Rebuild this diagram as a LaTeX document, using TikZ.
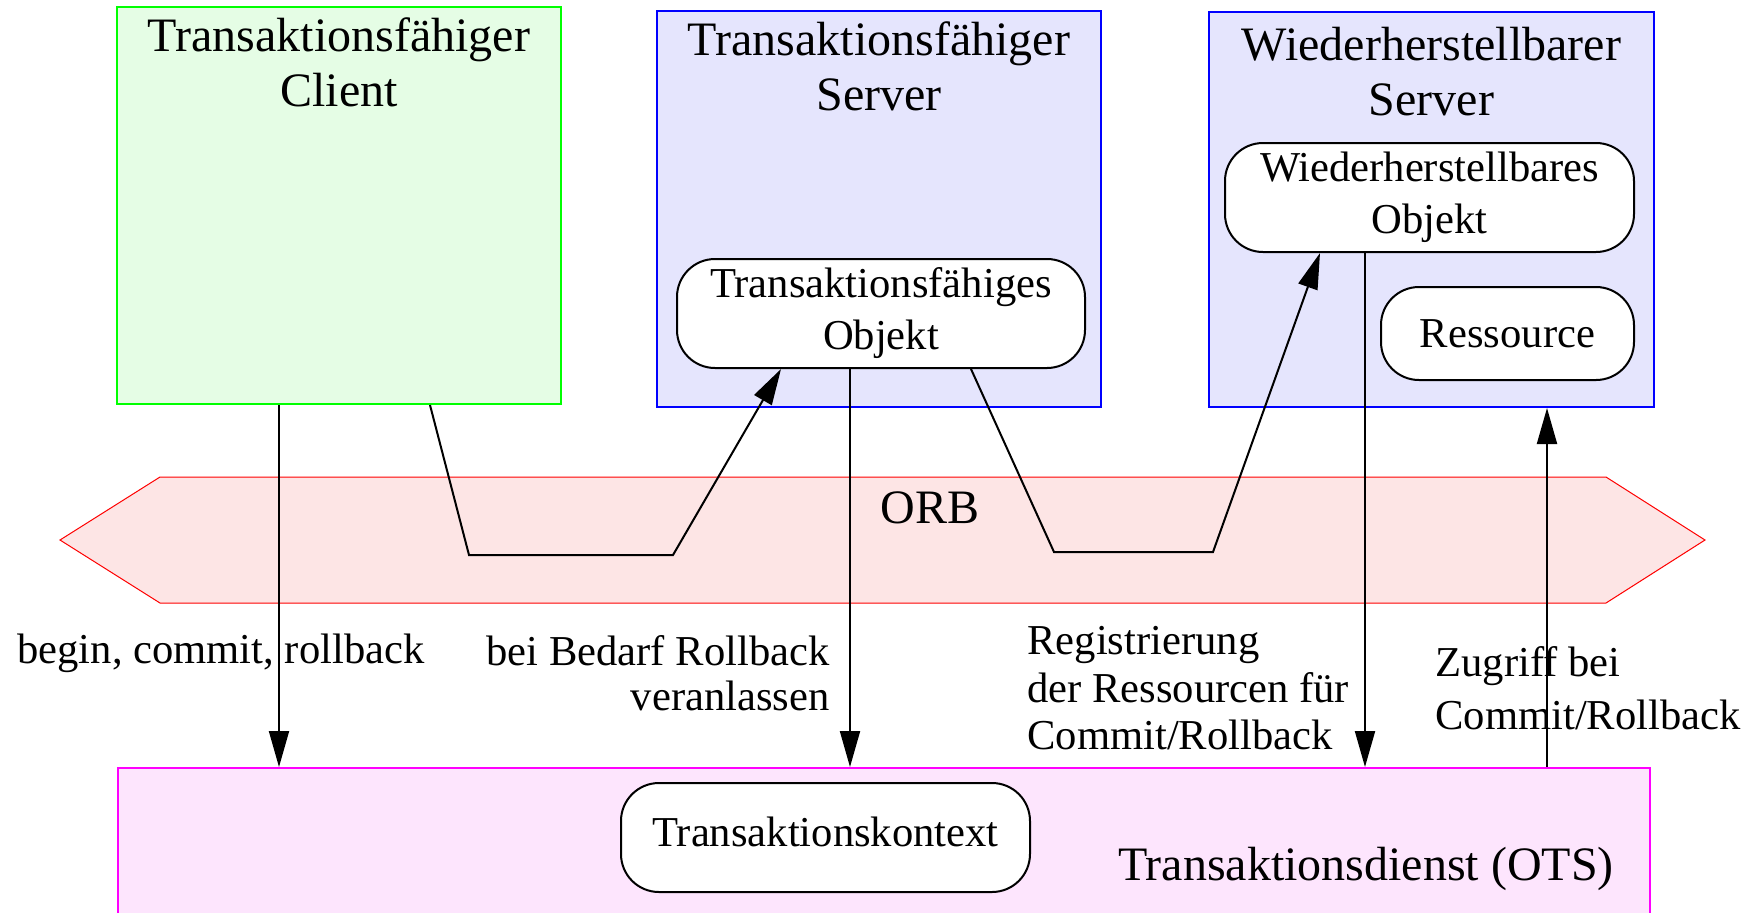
\documentclass[tikz,border=0pt]{standalone}
\usepackage{fontspec}
\setmainfont{Liberation Serif}
\usetikzlibrary{arrows.meta}

\definecolor{clientfill}{RGB}{229,253,229}
\definecolor{clientline}{RGB}{0,255,0}
\definecolor{serverfill}{RGB}{229,229,253}
\definecolor{serverline}{RGB}{0,0,255}
\definecolor{orbfill}{RGB}{253,229,229}
\definecolor{orbline}{RGB}{255,0,0}
\definecolor{otsfill}{RGB}{253,229,253}
\definecolor{otsline}{RGB}{255,0,255}

\begin{document}
\begin{tikzpicture}[x=0.5pt,y=-0.5pt,
  area/.style={draw, line width=1pt, rectangle, inner sep=0pt},
  title/.style={anchor=north, align=center, inner sep=0pt,
                font=\fontsize{24}{27.5}\selectfont},
  obj/.style={draw, line width=1pt, fill=white, rounded corners=19pt,
              align=center, inner sep=0pt, font=\fontsize{21.3}{26}\selectfont},
  lbl/.style={inner sep=0pt},
  link/.style={line width=1pt},
  arr/.style={line width=1pt, -{Triangle[length=18pt,width=10pt]}}]

\clip (0,0) rectangle (1758,912);

% participants
\node[area, draw=clientline, fill=clientfill,
      minimum width=222pt, minimum height=198.5pt] (client) at (339,205.5) {};
\node[title] (clienttitle) at (339,17) {Transaktionsfähiger\\Client};

\node[area, draw=serverline, fill=serverfill,
      minimum width=222pt, minimum height=198pt] (srv1) at (879,209) {};
\node[title] (srv1title) at (879,21.5) {Transaktionsfähiger\\Server};

\node[area, draw=serverline, fill=serverfill,
      minimum width=222.5pt, minimum height=197.5pt] (srv2) at (1431.5,209.5) {};
\node[title] (srv2title) at (1431.5,27) {Wiederherstellbarer\\Server};

% object request broker
\draw[draw=orbline, fill=orbfill, line width=0.5pt]
  (60,540) -- (160,477) -- (1606,477) -- (1705,540) -- (1606,603) -- (160,603) -- cycle;
\node[anchor=base, inner sep=0pt, font=\fontsize{24}{28}\selectfont] (orb) at (930,523) {ORB};

% transaction service
\node[area, draw=otsline, fill=otsfill, anchor=north west,
      minimum width=766pt, minimum height=100pt] (ots) at (117,767) {};
\node[anchor=base, inner sep=0pt, font=\fontsize{24}{28}\selectfont] (otstext) at (1366,880)
  {Transaktionsdienst (OTS)};

% objects
\node[obj, minimum width=204pt, minimum height=54.5pt] (tobj) at (881,313.5)
  {Transaktionsfähiges\\Objekt};
\node[obj, minimum width=204.5pt, minimum height=54.5pt] (wobj) at (1429.5,197.5)
  {Wiederherstellbares\\Objekt};
\node[obj, minimum width=126.5pt, minimum height=46.5pt] (res) at (1507.5,333.5) {Ressource};
\node[obj, minimum width=204.5pt, minimum height=54.5pt,
      text height=14.5pt, text depth=5.5pt] (ctx) at (825.5,837.5)
  {Transaktionskontext};

% labels
\node[lbl, anchor=base west, font=\fontsize{21.3}{23}\selectfont] (lbegin) at (17,663)
  {begin, commit, rollback};
\node[lbl, anchor=north east, align=right, font=\fontsize{21.3}{22.5}\selectfont] (lroll) at (830,635)
  {bei Bedarf Rollback\\veranlassen};
\node[lbl, anchor=north west, align=left, font=\fontsize{21.3}{23.75}\selectfont] (lreg) at (1027,626)
  {Registrierung\\der Ressourcen für\\Commit/Rollback};
\node[lbl, anchor=north west, align=left, font=\fontsize{21.3}{26.5}\selectfont] (lacc) at (1435,646)
  {Zugriff bei\\Commit/Rollback};

% connector columns and bends
\coordinate (xa) at (279,0);
\coordinate (xb) at (430,0);
\coordinate (xc) at (781,0);
\coordinate (xd) at (850,0);
\coordinate (xe) at (971,0);
\coordinate (xf) at (1320,0);
\coordinate (xg) at (1365,0);
\coordinate (xh) at (1547,0);
\coordinate (b1) at (469,555);
\coordinate (b2) at (673,555);
\coordinate (b3) at (1054,552);
\coordinate (b4) at (1213,552);

% connectors
\draw[arr] (client.south -| xa) -- (ots.north -| xa);
\draw[arr] (client.south -| xb) -- (b1) -- (b2) -- (tobj.south -| xc);
\draw[arr] (tobj.south -| xd) -- (ots.north -| xd);
\draw[arr] (tobj.south -| xe) -- (b3) -- (b4) -- (wobj.south -| xf);
\draw[arr] (wobj.south -| xg) -- (ots.north -| xg);
\draw[arr] (ots.north -| xh) -- (srv2.south -| xh);

\end{tikzpicture}
\end{document}
